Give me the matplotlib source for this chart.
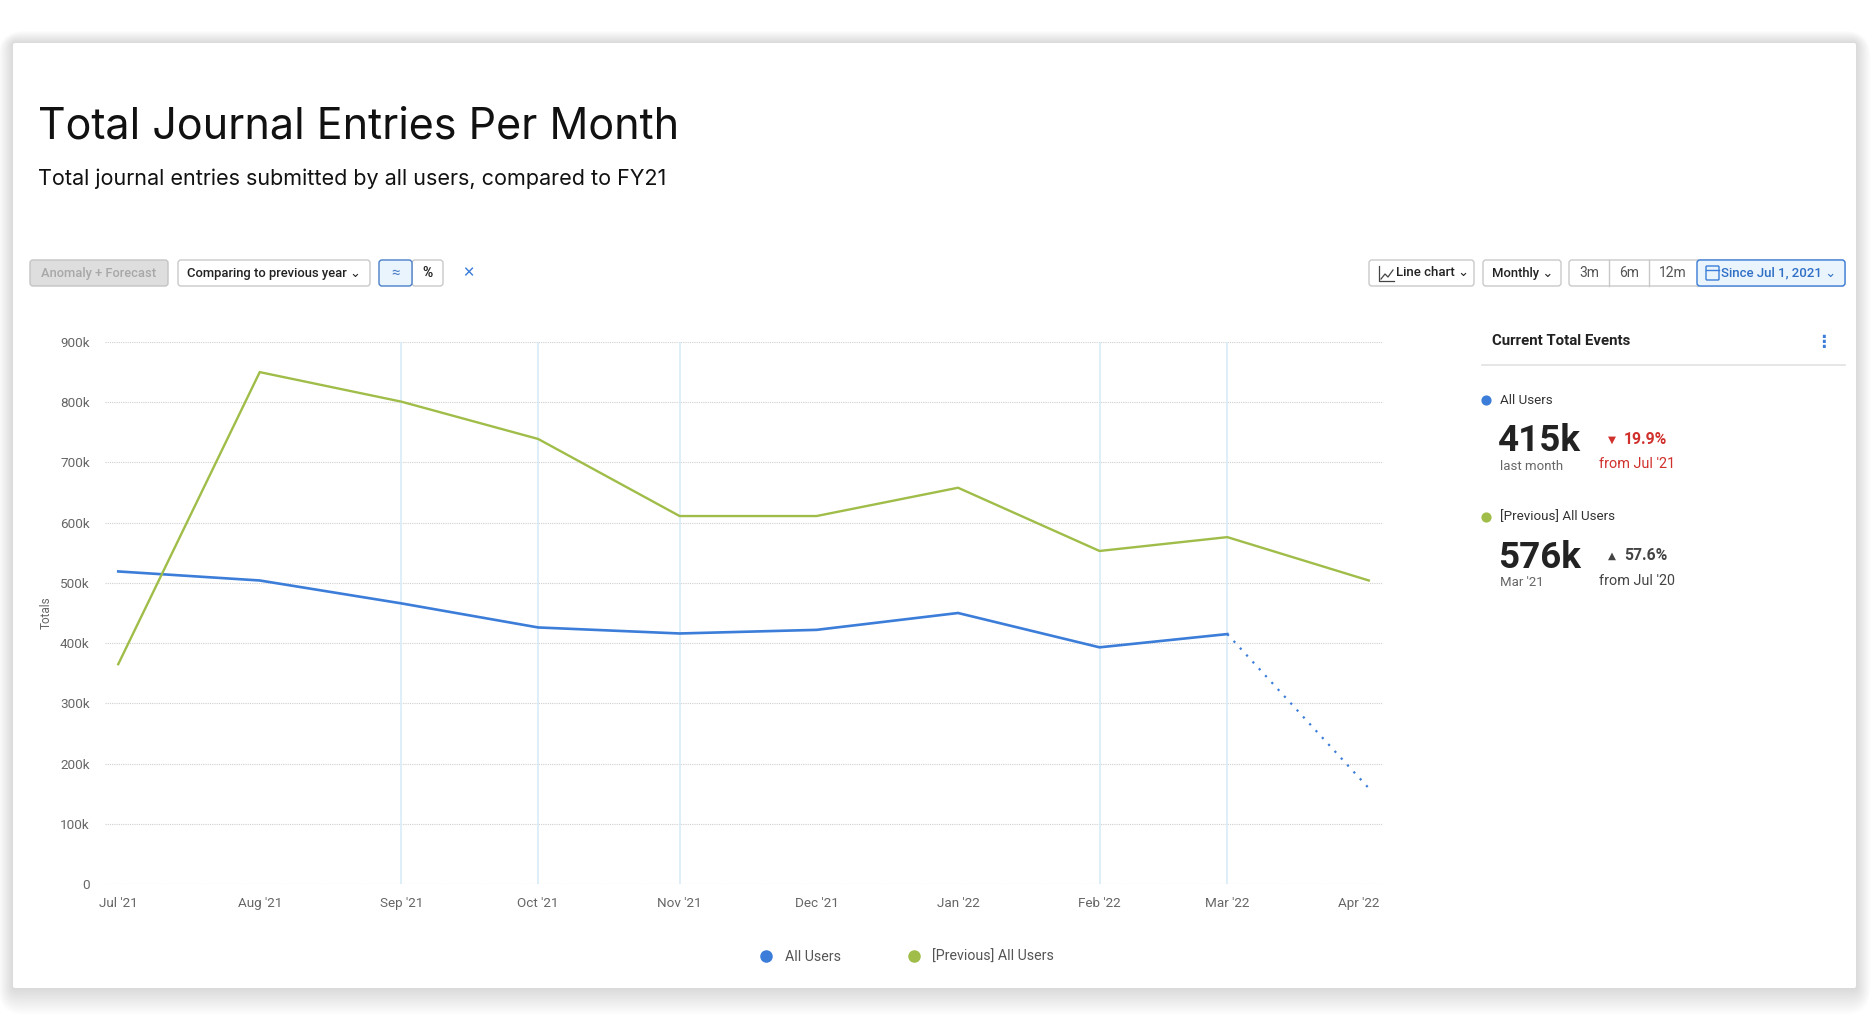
import matplotlib
matplotlib.use("Agg")
import matplotlib.pyplot as plt
import matplotlib.dates as mdates
from matplotlib.patches import FancyBboxPatch
from matplotlib.lines import Line2D
from matplotlib.transforms import ScaledTranslation
import pandas as pd

W, H = 1872, 1030

# data (thousands of journal entries)
months = pd.date_range("2021-07-01", "2022-04-01", freq="MS")
all_users = [519, 504, 466, 426, 416, 422, 450, 393, 415]      # Jul '21 .. Mar '22
forecast = [415, 159]                                          # Mar '22 -> Apr '22
previous_users = [365, 850, 801, 739, 611, 611, 658, 553, 576, 504]
highlight_months = pd.to_datetime(["2021-09-01", "2021-10-01", "2021-11-01",
                                   "2022-02-01", "2022-03-01"])
y_ticks = [0, 100, 200, 300, 400, 500, 600, 700, 800, 900]

BLUE = "#3b7dd8"
GREEN = "#9fbd48"
UI = ["Roboto", "DejaVu Sans"]

plt.rcParams["font.family"] = UI

fig = plt.figure(figsize=(W / 100, H / 100), dpi=100)
fig.patch.set_facecolor("white")

# pixel-space background layer for the card and the toolbar widgets
bg = fig.add_axes([0, 0, 1, 1], zorder=0)
bg.set_xlim(0, W)
bg.set_ylim(H, 0)
bg.axis("off")


def box(x0, y0, x1, y1, fc="white", ec="#c9c9c9", lw=1.0, r=3, z=2, alpha=1.0):
    bg.add_patch(FancyBboxPatch((x0, y0), x1 - x0, y1 - y0,
                                boxstyle=f"round,pad=0,rounding_size={r}",
                                fc=fc, ec=ec, lw=lw, zorder=z, alpha=alpha))


# card with soft shadow
for i in range(12):
    g = 24 - i * 2
    box(13 - g * 0.6, 43 - g * 0.5, 1856 + g * 0.6, 988 + g * 1.1,
        fc="#000000", ec="none", lw=0, r=g + 2, z=1, alpha=0.011)
box(13, 43, 1856, 988, fc="white", ec="none", lw=0, r=2, z=1.5)

fig.text(38 / W, 1 - 127 / H, "Total Journal Entries Per Month", fontsize=31,
         family=["Inter", "DejaVu Sans"], color="#111111", va="center")
fig.text(38 / W, 1 - 179 / H, "Total journal entries submitted by all users, compared to FY21",
         fontsize=15.5, family=["Inter", "DejaVu Sans"], color="#111111", va="center")


def t(x, y, s, size=9, color="#333333", weight="normal", ha="left", **kw):
    bg.text(x, y, s, fontsize=size, color=color, weight=weight, ha=ha,
            va="center", zorder=5, **kw)


# left toolbar
box(30, 260, 168, 286, fc="#dedede", ec="#c4c4c4")
t(99, 273, "Anomaly + Forecast", 9.3, "#a8a8a8", "medium", "center")
box(178, 260, 370, 286)
t(187, 273, "Comparing to previous year \u2304", 9.4, "#222222", "medium")
box(379, 260, 412, 286, fc="#eaf4fd", ec="#4a7fc8", z=3)
t(395.5, 273, "\u2248", 11, "#4a7fc8", ha="center")
box(412, 260, 443, 286)
t(427.5, 273, "%", 10, "#222222", "bold", "center")
t(468, 273, "\u2715", 10.5, "#3b7dd8", "bold", "center")

# right toolbar
box(1369, 260, 1474, 286)
bg.plot([1379, 1379, 1394], [266, 281, 281], color="#444444", lw=0.9, zorder=5)
bg.plot([1381, 1385, 1388, 1393], [279, 274, 277, 270], color="#444444", lw=0.9, zorder=5)
t(1396, 273, "Line chart \u2304", 9.5, "#222222", "medium")
box(1483, 260, 1561, 286)
t(1492, 273, "Monthly \u2304", 9.4, "#222222", "medium")
box(1569, 260, 1845, 286)
for x0, x1, lab in [(1569, 1609, "3m"), (1609, 1649, "6m"), (1649, 1697, "12m")]:
    bg.plot([x1, x1], [260, 286], color="#c9c9c9", lw=1, zorder=3)
    t((x0 + x1) / 2, 273, lab, 10, "#555555", ha="center")
box(1697, 260, 1845, 286, fc="#eaf4fd", ec="#3b7dd8", z=3)
box(1706, 266, 1719, 280, fc="none", ec="#3b7dd8", lw=1, r=1, z=4)
bg.plot([1706, 1719], [269.5, 269.5], color="#3b7dd8", lw=1, zorder=4)
t(1721, 273, "Since Jul 1, 2021 \u2304", 9.5, "#2f6fc6", "medium")

# right summary panel
t(1492, 341, "Current Total Events", 10.8, "#222222", "bold")
t(1823, 343, "\u22ee", 12, "#3b7dd8", "bold", "center")
bg.plot([1482, 1845], [365, 365], color="#e2e2e2", lw=1.2, zorder=3)

bg.scatter([1486], [400], s=40, color=BLUE, zorder=5)
t(1500, 400, "All Users", 9.6, "#333333")
t(1498, 441, "415k", 26.5, "#222222", "bold")
t(1500, 466, "last month", 9.5, "#666666")
t(1612, 440, "\u25bc", 7.5, "#d0312d", ha="center")
t(1624, 439, "19.9%", 11.3, "#d0312d", "bold")
t(1599, 464, "from Jul '21", 10.4, "#d0312d")

bg.scatter([1486], [517], s=40, color=GREEN, zorder=5)
t(1500, 517, "[Previous] All Users", 9.6, "#333333")
t(1498, 558, "576k", 26.5, "#222222", "bold")
t(1500, 582, "Mar '21", 9.5, "#666666")
t(1612, 556, "\u25b2", 7.5, "#444444", ha="center")
t(1624, 556, "57.6%", 11.3, "#444444", "bold")
t(1599, 581, "from Jul '20", 10.4, "#444444")

# main chart
ax = fig.add_axes([105 / W, 1 - 884 / H, (1382.5 - 105) / W, 542 / H], zorder=2)
ax.set_facecolor("none")
ax.set_xlim(mdates.date2num(months[0]) - 2.9, mdates.date2num(months[-1]) + 3)
ax.set_ylim(0, 900)

for m in highlight_months:
    ax.axvline(m, color="#d6ebf8", lw=1.1, zorder=1)

ax.plot(months[:len(all_users)], all_users, color=BLUE, lw=1.9, zorder=3,
        solid_joinstyle="miter")
ax.plot(months[len(all_users) - 1:], forecast, color=BLUE, lw=1.6,
        linestyle=(0, (1, 3.2)), zorder=3)
ax.plot(months, previous_users, color=GREEN, lw=1.7, zorder=3,
        solid_joinstyle="miter")

ax.set_yticks(y_ticks)
ax.set_yticklabels(["0" if v == 0 else f"{v}k" for v in y_ticks])
ax.set_xticks(months)
ax.xaxis.set_major_formatter(mdates.DateFormatter("%b '%y"))
ax.yaxis.grid(True, linestyle=(0, (1, 1)), color="#cfcfcf", lw=0.8, zorder=0)
ax.xaxis.grid(False)
ax.set_axisbelow(True)
for s in ax.spines.values():
    s.set_visible(False)
ax.tick_params(axis="both", length=0, labelsize=9.7, labelcolor="#666666")
ax.tick_params(axis="y", pad=11)
ax.tick_params(axis="x", pad=16.5)
ax.set_ylabel("Totals", fontsize=8.5, color="#666666", labelpad=5)

# x labels sit on a common baseline; the last one is pulled inside the plot edge
fig.canvas.draw()
for lbl in ax.get_xticklabels():
    lbl.set_verticalalignment("baseline")
last = ax.get_xticklabels()[-1]
last.set_transform(last.get_transform() + ScaledTranslation(-10 / 100, 0, fig.dpi_scale_trans))

handles = [Line2D([], [], marker="o", linestyle="none", markersize=8, color=BLUE),
           Line2D([], [], marker="o", linestyle="none", markersize=8, color=GREEN)]
fig.legend(handles, ["All Users", "[Previous] All Users"], loc="center",
           bbox_to_anchor=(907 / W, 1 - 957 / H), ncol=2, frameon=False,
           fontsize=10.2, labelcolor="#555555", handletextpad=0.85, columnspacing=4.7,
           handlelength=0.9)

fig.savefig("out.png", dpi=100, facecolor="white")
plt.close(fig)
